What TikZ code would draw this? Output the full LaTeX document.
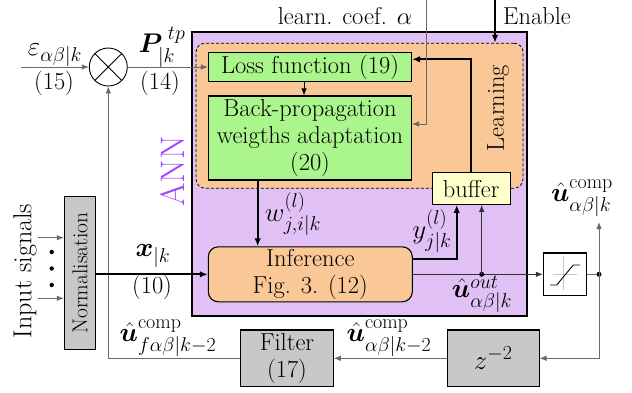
\RequirePackage{fix-cm}
\documentclass[tikz,border=0pt]{standalone}
\usepackage{amsmath,bm}
\usetikzlibrary{arrows.meta}
\DeclareMathSizes{27}{27}{20}{15}
\definecolor{annfill}{RGB}{225,192,245}
\definecolor{learnfill}{RGB}{250,200,150}
\definecolor{greenfill}{RGB}{170,245,140}
\definecolor{buffill}{RGB}{255,255,204}
\definecolor{greyfill}{RGB}{200,200,200}
\definecolor{annpurple}{RGB}{160,70,255}
\definecolor{linegrey}{RGB}{105,105,105}
\begin{document}
\begin{tikzpicture}[x=1pt,y=-1pt,
  every node/.style={font=\fontsize{24.5}{27}\selectfont, inner sep=0pt},
  mlbl/.style={font=\fontsize{27}{30}\selectfont},
  blk/.style={draw=black, line width=1.1pt, align=center},
  tip/.style={-{Latex[length=7pt,width=5.5pt]}},
  bigtip/.style={-{Latex[length=8pt,width=6.5pt]}},
  thinln/.style={draw=linegrey, line width=0.8pt},
  thickln/.style={draw=black, line width=1.8pt}]
\useasboundingbox (0,0) rectangle (632,392);

% containers
\node[draw=black, line width=1.1pt, fill=annfill, minimum width=335pt, minimum height=284pt] (ann) at (359.5,174) {};
\node[draw=black, densely dashed, line width=0.8pt, fill=learnfill, rounded corners=9pt, minimum width=327pt, minimum height=145pt] (learnbox) at (359.5,115.7) {};

% blocks
\node[blk, fill=greenfill, minimum width=203pt, minimum height=28.5pt] (loss) at (310,67) {Loss function (19)};
\node[blk, fill=greenfill, minimum width=203pt, minimum height=84pt] (bp) at (310,138) {Back-propagation\\weigths adaptation\\(20)};
\node[blk, fill=learnfill, rounded corners=10pt, minimum width=204pt, minimum height=55pt] (inf) at (310.3,274.3) {Inference\\Fig. 3. (12)};
\node[blk, fill=buffill, minimum width=77.7pt, minimum height=31.6pt] (buffer) at (471.2,188.5) {buffer};
\node[blk, fill=greyfill, minimum width=31.4pt, minimum height=152.6pt] (norm) at (80,273) {};
\node[rotate=90, font=\fontsize{21.5}{24}\selectfont] (normtxt) at (norm.center) {Normalisation};
\node[draw=black, line width=0.9pt, circle, minimum size=38pt] (sum) at (108.3,67) {};
\draw[line width=0.8pt] (sum.north west) -- (sum.south east) (sum.north east) -- (sum.south west);
\node[blk, fill=greyfill, minimum width=92.6pt, minimum height=56.7pt] (filter) at (287,358.3) {Filter\\(17)};
\node[blk, mlbl, fill=greyfill, minimum width=91.7pt, minimum height=56.7pt] (zbox) at (493.2,358.3) {$z^{-2}$};
\node[blk, fill=white, minimum size=42.7pt] (sat) at (564.7,274.3) {};
\draw[gray!45, line width=0.6pt] (sat.center) ++(-12,0) -- ++(24,0) (sat.center) ++(-1.4,-18) -- ++(0,34);
\draw[black, line width=0.9pt] (sat.center) ++(-14.7,10.7) -- ++(6.7,0) -- ++(16.6,-20) -- ++(6.7,0);

% coordinates
\coordinate (epsin) at (21,67);
\coordinate (lcoef) at (426.7,0);
\coordinate (lcturn) at (426.7,124);
\coordinate (enin) at (495,0);
\coordinate (ycol) at (456.7,259.3);
\coordinate (uoutdot) at (481.7,274.3);
\coordinate (bufret) at (471.2,59.3);
\coordinate (wcol) at (257.7,0);
\coordinate (lossarr) at (304,0);
\coordinate (compdot) at (599,274.3);
\coordinate (compup) at (599,222);
\coordinate (compdown) at (599,358.3);
\coordinate (fbcorner) at (108.3,358.3);
\coordinate (in1) at (38,237.7);
\coordinate (in2) at (38,298.3);

% connectors
\draw[thinln, tip] (epsin) -- (sum.west);
\draw[thinln, tip] (sum.east) -- (loss.west);
\draw[draw=black, line width=0.8pt, tip] (loss.south -| lossarr) -- (bp.north -| lossarr);
\draw[thickln, bigtip] (bp.south -| wcol) -- (inf.north -| wcol);
\draw[thickln, bigtip] (inf.east |- ycol) -- (ycol) -- (buffer.south -| ycol);
\draw[draw=black!80, line width=0.8pt, tip] (inf.east) -- (sat.west);
\fill (uoutdot) circle (2.5);
\draw[draw=black!80, line width=0.8pt, tip] (uoutdot) -- (buffer.south -| uoutdot);
\draw[thickln, bigtip] (buffer.north) -- (bufret) -- (loss.east |- bufret);
\draw[thinln, tip] (lcoef) -- (lcturn) -- (bp.east |- lcturn);
\draw[thickln, bigtip] (enin) -- (learnbox.north -| enin);
\draw[thinln] (sat.east) -- (compdot);
\fill (compdot) circle (2.5);
\draw[thinln, tip] (compdot) -- (compup);
\draw[thinln, tip] (compdot) -- (compdown) -- (zbox.east);
\draw[thinln, tip] (zbox.west) -- (filter.east);
\draw[thinln, tip] (filter.west) -- (fbcorner) -- (sum.south);
\draw[thinln, tip] (in1) -- (norm.west |- in1);
\draw[thinln, tip] (in2) -- (norm.west |- in2);
\draw[thickln, bigtip] (inf.west -| norm.east) -- (inf.west);
\fill (51.7,252) circle (2.2) (51.7,268.5) circle (2.2) (51.7,285) circle (2.2);

% labels
\node[mlbl] (epslbl) at (55,55) {$\varepsilon_{\alpha\beta|k}$};
\node (eq15) at (54,83) {(15)};
\node[mlbl] (plbl) at (162,47) {$\boldsymbol{P}^{\;tp}_{|k}$};
\node (eq14) at (160,83) {(14)};
\node (lclbl) at (345,16) {learn. coef. $\alpha$};
\node (enlbl) at (537,16) {Enable};
\node[mlbl] (wlbl) at (293,214) {$w^{(l)}_{j,i|k}$};
\node[mlbl] (ylbl) at (432,231) {$y^{(l)}_{j|k}$};
\node[mlbl] (uoutlbl) at (482,294) {$\hat{\boldsymbol u}^{out}_{\alpha\beta|k}$};
\node[mlbl] (ucomplbl) at (582,198) {$\hat{\boldsymbol u}^{\mathrm{comp}}_{\alpha\beta|k}$};
\node[mlbl] (ucomp2lbl) at (389,338) {$\hat{\boldsymbol u}^{\mathrm{comp}}_{\alpha\beta|k-2}$};
\node[mlbl] (ucompflbl) at (168,338) {$\hat{\boldsymbol u}^{\mathrm{comp}}_{f\alpha\beta|k-2}$};
\node[mlbl] (xlbl) at (153,256) {$\boldsymbol{x}_{|k}$};
\node (eq10) at (152,287) {(10)};
\node[rotate=90, font=\fontsize{26}{28}\selectfont] (inlbl) at (25,271) {Input signals};
\node[rotate=90, text=annpurple, font=\fontsize{34}{40}\selectfont] (annlbl) at (172.5,171.5) {ANN};
\node[rotate=90] (learnlbl) at (498,108) {Learning};
\end{tikzpicture}
\end{document}
